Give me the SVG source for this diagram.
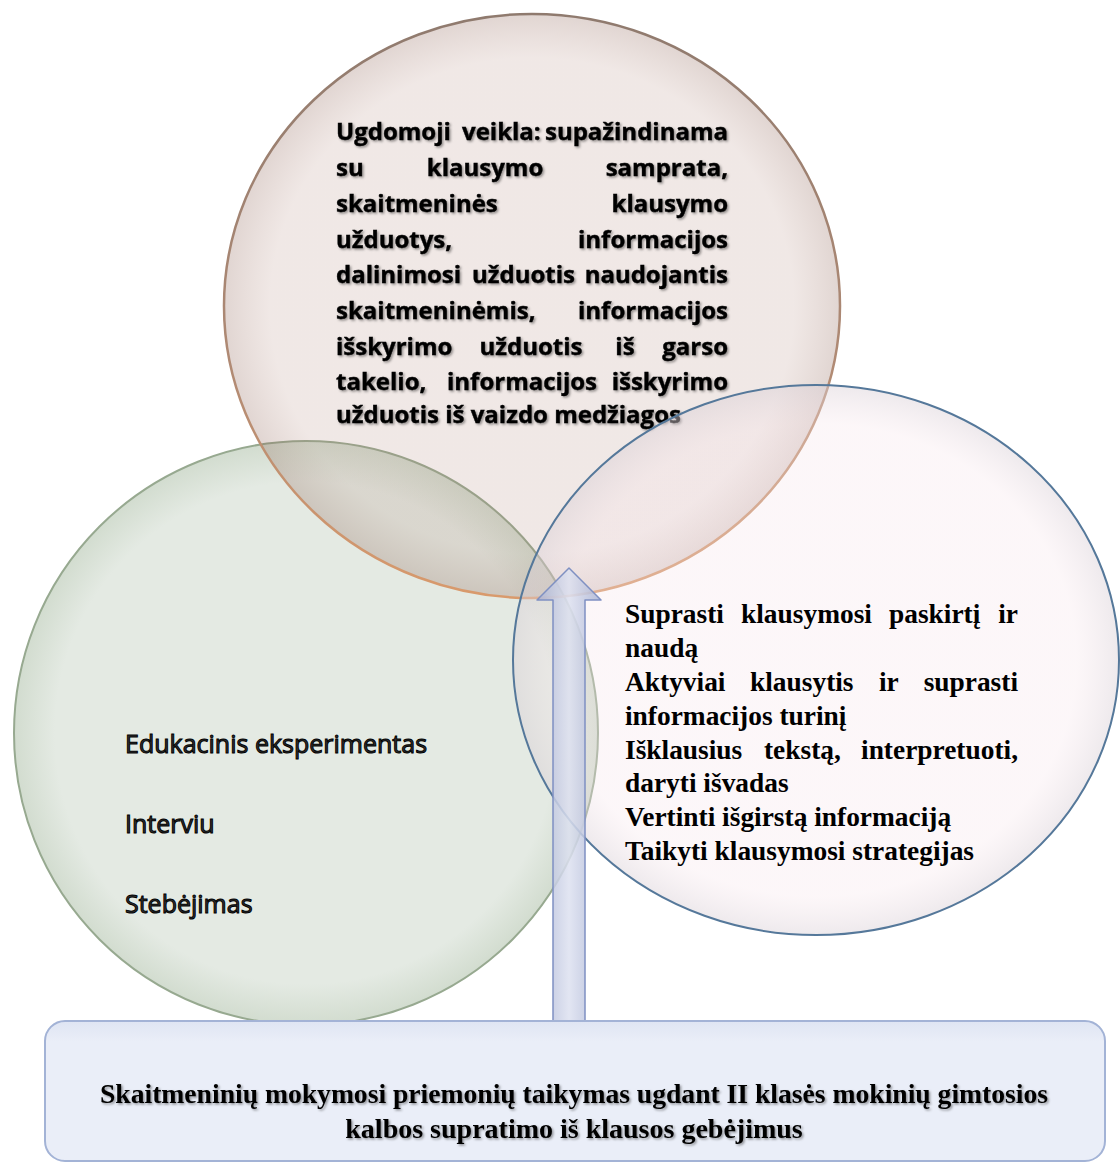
<svg xmlns="http://www.w3.org/2000/svg" width="1120" height="1164" viewBox="0 0 1120 1164">
<defs>
  <radialGradient id="gTop" cx="50%" cy="50%" r="50%">
    <stop offset="0.85" stop-color="#a7786a" stop-opacity="0.17"/>
    <stop offset="1" stop-color="#8a5e50" stop-opacity="0.26"/>
  </radialGradient>
  <linearGradient id="sTop" x1="0" y1="0" x2="0" y2="1">
    <stop offset="0" stop-color="#8f7a6e"/>
    <stop offset="0.6" stop-color="#b08a74"/>
    <stop offset="1" stop-color="#d99a6c"/>
  </linearGradient>
  <radialGradient id="gLeft" cx="50%" cy="50%" r="50%">
    <stop offset="0.86" stop-color="#e4eae3"/>
    <stop offset="1" stop-color="#d2dccf"/>
  </radialGradient>
  <radialGradient id="gRight" cx="50%" cy="50%" r="50%">
    <stop offset="0.86" stop-color="#f6e4ea" stop-opacity="0.3"/>
    <stop offset="1" stop-color="#d9cfd6" stop-opacity="0.45"/>
  </radialGradient>
  <linearGradient id="gArrow" x1="0" y1="0" x2="1" y2="0">
    <stop offset="0" stop-color="#aab3d3"/>
    <stop offset="0.5" stop-color="#dde1f0"/>
    <stop offset="1" stop-color="#aab3d3"/>
  </linearGradient>
  <linearGradient id="gBox" x1="0" y1="0" x2="0" y2="1">
    <stop offset="0" stop-color="#dfe5f3"/>
    <stop offset="0.15" stop-color="#eaeef8"/>
    <stop offset="1" stop-color="#eaeef8"/>
  </linearGradient>
  <filter id="shadow" x="-5%" y="-20%" width="110%" height="140%">
    <feDropShadow dx="1.5" dy="1.5" stdDeviation="1.3" flood-color="#000" flood-opacity="0.4"/>
  </filter>
</defs>
<style>
  .top { font-family: "Open Sans", "Liberation Sans", sans-serif; font-weight: 700; font-size: 24px; fill: #000; stroke: #000; stroke-width: 0.4px; }
  .left { font-family: "Open Sans", "Liberation Sans", sans-serif; font-weight: 400; font-size: 25px; fill: #333; stroke: #000; stroke-width: 1px; }
  .right { font-family: "Liberation Serif", "Times New Roman", serif; font-weight: 700; font-size: 27.4px; fill: #000; }
  .bottom { font-family: "Liberation Serif", "Times New Roman", serif; font-weight: 700; font-size: 28px; fill: #000; }
  .e { text-anchor: end; }
  .m { text-anchor: middle; }
</style>

<g id="node-left">
  <circle cx="306" cy="733" r="292" fill="url(#gLeft)" stroke="#97a990" stroke-width="2"/>
  <text class="left" x="125" y="753">Edukacinis eksperimentas</text>
  <text class="left" x="125" y="833">Interviu</text>
  <text class="left" x="125" y="913">Stebėjimas</text>
</g>

<g id="node-top">
  <ellipse cx="532" cy="306" rx="308" ry="292" fill="url(#gTop)" stroke="url(#sTop)" stroke-width="2.5"/>
  <g filter="url(#shadow)">
    <text class="top" y="140"><tspan x="336">Ugdomoji</tspan><tspan x="462">veikla:</tspan><tspan class="e" x="728">supažindinama</tspan></text>
    <text class="top" y="176"><tspan x="336">su</tspan><tspan class="m" x="485">klausymo</tspan><tspan class="e" x="728">samprata,</tspan></text>
    <text class="top" y="212"><tspan x="336">skaitmeninės</tspan><tspan class="e" x="728">klausymo</tspan></text>
    <text class="top" y="248"><tspan x="336">užduotys,</tspan><tspan class="e" x="728">informacijos</tspan></text>
    <text class="top" y="283"><tspan x="336">dalinimosi</tspan><tspan x="472">užduotis</tspan><tspan class="e" x="728">naudojantis</tspan></text>
    <text class="top" y="319"><tspan x="336">skaitmeninėmis,</tspan><tspan class="e" x="728">informacijos</tspan></text>
    <text class="top" y="355"><tspan x="336">išskyrimo</tspan><tspan class="m" x="531">užduotis</tspan><tspan class="m" x="625">iš</tspan><tspan class="e" x="728">garso</tspan></text>
    <text class="top" y="390"><tspan x="336">takelio,</tspan><tspan x="447">informacijos</tspan><tspan class="e" x="728">išskyrimo</tspan></text>
    <text class="top" x="336" y="423">užduotis iš vaizdo medžiagos</text>
  </g>
</g>

<g id="node-right">
  <ellipse cx="816" cy="660" rx="303" ry="275" fill="url(#gRight)" stroke="#55789a" stroke-width="2"/>
  <text class="right" y="623"><tspan x="625">Suprasti</tspan><tspan x="741">klausymosi</tspan><tspan x="889">paskirtį</tspan><tspan class="e" x="1018">ir</tspan></text>
  <text class="right" x="625" y="657">naudą</text>
  <text class="right" y="691"><tspan x="625">Aktyviai</tspan><tspan x="750">klausytis</tspan><tspan x="879">ir</tspan><tspan class="e" x="1018">suprasti</tspan></text>
  <text class="right" x="625" y="725">informacijos turinį</text>
  <text class="right" y="759"><tspan x="625">Išklausius</tspan><tspan x="764">tekstą,</tspan><tspan class="e" x="1018">interpretuoti,</tspan></text>
  <text class="right" x="625" y="792">daryti išvadas</text>
  <text class="right" x="625" y="826">Vertinti išgirstą informaciją</text>
  <text class="right" x="625" y="860">Taikyti klausymosi strategijas</text>
</g>

<g id="connectors">
  <path d="M553 1021 L553 600 L537 600 L569 568 L601 600 L585 600 L585 1021 Z" fill="url(#gArrow)" fill-opacity="0.85" stroke="#7f90c2" stroke-width="1.5" stroke-linejoin="round"/>
</g>

<g id="node-bottom">
  <rect x="45" y="1021" width="1060" height="140" rx="20" ry="20" fill="url(#gBox)" stroke="#a3b3d6" stroke-width="2"/>
  <g filter="url(#shadow)">
    <text class="bottom m" x="574" y="1103" textLength="948" lengthAdjust="spacingAndGlyphs">Skaitmeninių mokymosi priemonių taikymas ugdant II klasės mokinių gimtosios</text>
    <text class="bottom m" x="574" y="1138">kalbos supratimo iš klausos gebėjimus</text>
  </g>
</g>
</svg>
